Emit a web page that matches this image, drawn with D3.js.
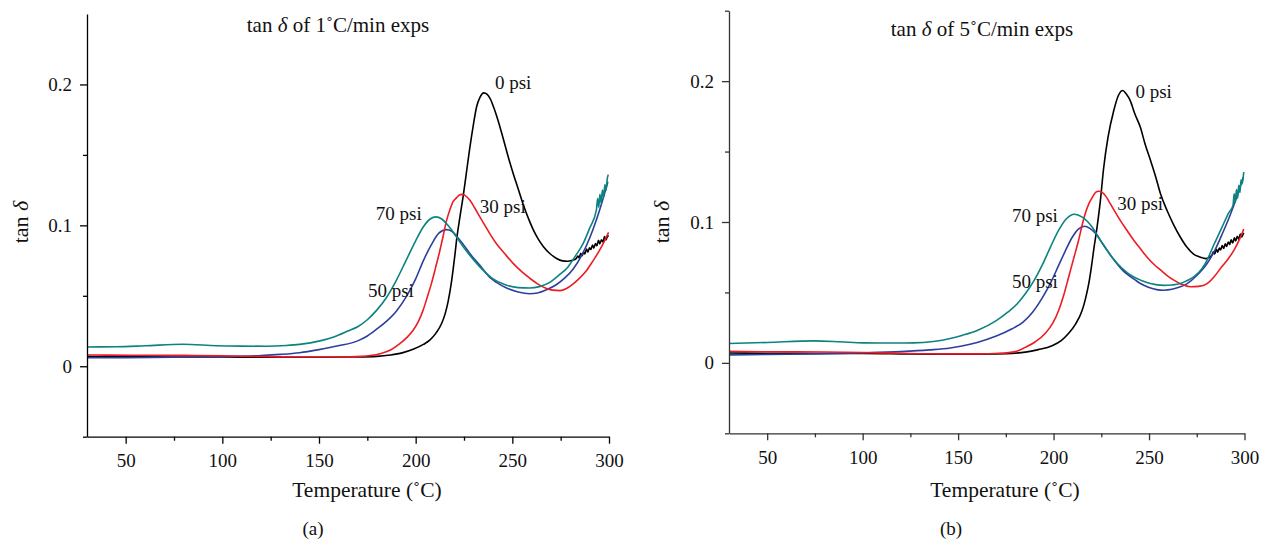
<!DOCTYPE html>
<html>
<head>
<meta charset="utf-8">
<script src="https://cdn.jsdelivr.net/npm/d3@7"></script>
<style>
  html, body { margin: 0; padding: 0; background: #fff; }
  svg { display: block; font-family: "Liberation Serif", "Times New Roman", serif; }
</style>
</head>
<body>
<svg id="chart" width="1273" height="546"></svg>
<script>
// ---- axis ticks ----
const xTicks = [50, 100, 150, 200, 250, 300];
const xMinorTicks = [75, 125, 175, 225, 275];
const yTicks = [0, 0.1, 0.2];
const yTickLabels = ["0", "0.1", "0.2"];
const yMinorTicksA = [-0.05, 0.05, 0.15];
const yMinorTicksB = [-0.05, 0.05, 0.15, 0.25];
const xDomain = [30, 300];
const yDomain = [-0.05, 0.25];

// ---- series names ----
const pressureLabels = ["0 psi", "30 psi", "50 psi", "70 psi"];

// ---- (a) 1 °C/min : [temperature °C, tan δ] ----
const psi0_1C = [
  [30,0.0068],[50,0.0067],[75,0.0066],[100,0.0066],[125,0.0064],[150,0.0064],[170,0.0066],
  [180,0.0070],[187,0.0080],[193,0.0095],[199,0.0122],[204,0.0155],[207.3,0.0185],[210.5,0.0235],
  [213.3,0.030],[215.2,0.037],[216.8,0.046],[218.2,0.057],[219.4,0.069],[220.3,0.079],[221.1,0.089],
  [222.9,0.106],[224.6,0.121],[226.5,0.140],[228,0.155],[229.8,0.171],[231.5,0.184],[233.3,0.191],
  [235.2,0.194],[237,0.193],[238.7,0.1895],[240.3,0.184],[242.5,0.175],[245.2,0.162],[248,0.148],
  [250.4,0.137],[253,0.126],[255.6,0.115],[258,0.106],[260.8,0.097],[263.5,0.090],[266,0.085],
  [269.4,0.080],[272.9,0.0765],[276,0.0748],[278.5,0.0745],[281,0.0752],[283,0.0764],
  [283.9,0.0782],[284.5,0.0770],[285.4,0.0801],[286.1,0.0784],[286.9,0.0808],[287.5,0.0797],
  [288.4,0.0832],[289.1,0.0810],[289.9,0.0841],[290.6,0.0829],[291.5,0.0860],[292.1,0.0838],
  [293,0.0871],[293.7,0.0856],[294.6,0.0894],[295.2,0.0868],[296.1,0.0897],[296.9,0.0882],
  [297.7,0.0921],[298.4,0.0896],[299.1,0.0918],[299.8,0.0928]
];
const psi30_1C = [
  [30,0.0080],[40,0.0079],[60,0.0078],[80,0.0077],[100,0.0074],[120,0.0069],[140,0.0066],
  [160,0.0066],[172,0.0070],[181.5,0.0088],[187,0.0115],[191.8,0.0160],[195.5,0.0205],[198.7,0.0255],
  [201.5,0.032],[203.9,0.040],[206,0.049],[208.2,0.059],[210.3,0.070],[212.5,0.082],[214.3,0.093],
  [216,0.1035],[217.7,0.111],[219.4,0.117],[221.1,0.1195],[222.6,0.1215],[224,0.122],[225.5,0.1213],
  [228,0.118],[230.5,0.1125],[233.2,0.106],[235.8,0.100],[238.4,0.094],[241.8,0.087],[246,0.080],
  [250.4,0.073],[255,0.067],[259,0.0625],[263,0.0585],[267.7,0.0552],[271,0.0540],[274.6,0.0537],
  [278,0.0552],[281,0.0580],[284,0.0615],[288.4,0.068],[291.8,0.075],[295,0.082],[297.5,0.0885],
  [299.8,0.095]
];
const psi50_1C = [
  [30,0.0060],[50,0.0061],[75,0.0064],[100,0.0069],[120,0.0076],[130,0.0084],[140,0.0096],
  [150,0.0118],[160,0.0145],[170,0.0180],[175,0.0215],[180,0.0265],[185,0.032],[190,0.039],
  [195,0.049],[200,0.062],[204,0.075],[208,0.086],[212,0.0945],[216,0.097],[218.5,0.096],
  [221.1,0.0925],[224.6,0.0865],[228,0.080],[233.2,0.0716],[238.4,0.063],[241.8,0.0595],[247,0.0555],
  [253,0.0527],[259,0.0515],[263,0.0520],[268,0.0545],[272.9,0.058],[277,0.0625],[281.5,0.069],
  [286,0.079],[290,0.091],[293.5,0.104],[296.5,0.117],[299.4,0.131]
];
const psi70_1C = [
  [30,0.0137],[45,0.0138],[60,0.0145],[79.6,0.0156],[97,0.0146],[110,0.0143],[123,0.0142],
  [133,0.0147],[140,0.0155],[150.5,0.0180],[158,0.0210],[165,0.0250],[170,0.028],[175,0.033],
  [180,0.040],[185,0.049],[190,0.061],[195,0.075],[200,0.089],[204,0.099],[207.5,0.1045],
  [210.5,0.106],[213.5,0.1045],[217,0.0995],[221,0.092],[225,0.084],[230,0.0755],[235,0.068],
  [240,0.062],[246,0.058],[253,0.0558],[259,0.0555],[264,0.0565],[269.4,0.0595],[274,0.0645],
  [278.8,0.0705],[282.5,0.078],[286.6,0.087],[290,0.098],[293.5,0.111],[294.1,0.119],[294.7,0.113],
  [295.3,0.122],[295.9,0.116],[296.6,0.125],[297.2,0.120],[297.9,0.129],[298.5,0.125],[299.1,0.133],
  [299.6,0.136]
];

// ---- (b) 5 °C/min : [temperature °C, tan δ] ----
const psi0_5C = [
  [30,0.0070],[50,0.0068],[75,0.0067],[100,0.0067],[125,0.0063],[150,0.0062],[170,0.0064],
  [180,0.0069],[185.2,0.0076],[192,0.0094],[199.2,0.0122],[204,0.0158],[207.9,0.0210],[211.5,0.0275],
  [214.9,0.037],[216.8,0.046],[218.4,0.056],[219.8,0.068],[221,0.080],[222.8,0.0965],[224.5,0.115],
  [226.2,0.138],[228.5,0.160],[231.5,0.179],[234,0.190],[236.2,0.1934],[238,0.191],[240.2,0.186],
  [242.5,0.177],[245.5,0.167],[248,0.155],[250.7,0.144],[253.5,0.132],[256,0.120],[259.5,0.108],
  [262.9,0.098],[266.5,0.089],[269.9,0.082],[273.5,0.077],[276.9,0.075],[279.6,0.074],[282,0.0752],
  [283,0.0766],[283.7,0.0789],[284.4,0.0773],[285.3,0.0806],[286,0.0786],[286.8,0.0815],[287.5,0.0801],
  [288.3,0.0833],[289.1,0.0812],[289.9,0.0846],[290.6,0.0826],[291.5,0.0857],[292.2,0.0840],
  [293,0.0873],[293.8,0.0851],[294.7,0.0887],[295.4,0.0865],[296.2,0.0899],[297,0.0878],
  [297.8,0.0914],[298.6,0.0893],[299.2,0.0912],[299.7,0.0922]
];
const psi30_5C = [
  [30,0.0082],[50,0.0079],[80,0.0077],[100,0.0074],[120,0.0068],[140,0.0064],[160,0.0064],
  [172,0.0068],[180,0.0080],[185.2,0.011],[190.5,0.015],[195.7,0.021],[199.5,0.028],[202.6,0.037],
  [205.3,0.048],[207.9,0.061],[210.5,0.074],[213.1,0.087],[215,0.098],[216.6,0.106],[218.5,0.113],
  [220.5,0.118],[222,0.1210],[223.6,0.1218],[225.5,0.121],[227.5,0.118],[229.7,0.113],[232.3,0.107],
  [235,0.101],[238.5,0.094],[242,0.087],[245.5,0.081],[249,0.075],[252.5,0.070],[256,0.066],
  [259.5,0.062],[263,0.0587],[267,0.0558],[271.7,0.054],[276,0.0543],[280.4,0.0563],[284,0.061],
  [287.4,0.067],[291,0.073],[294.5,0.080],[297.5,0.088],[299.6,0.095]
];
const psi50_5C = [
  [30,0.0057],[50,0.0060],[75,0.0064],[100,0.0071],[120,0.0080],[135,0.0092],[145.9,0.0106],
  [152,0.0120],[160,0.0145],[170,0.0190],[178,0.0240],[184,0.029],[189,0.036],[194,0.046],
  [198.5,0.057],[202.6,0.069],[206,0.079],[209.7,0.089],[213,0.095],[216.3,0.097],[219,0.0955],
  [221.9,0.092],[226,0.084],[230.6,0.075],[236,0.066],[242.9,0.0587],[245.5,0.0563],[250,0.0535],
  [254,0.0520],[257.7,0.0516],[262,0.0522],[266,0.0538],[270,0.0563],[275,0.062],[280.4,0.0705],
  [284.5,0.080],[288.5,0.092],[292.5,0.105],[296,0.118],[299.4,0.132]
];
const psi70_5C = [
  [30,0.0138],[50,0.0145],[74.2,0.0156],[88,0.0150],[100.4,0.0142],[115,0.0141],[126.6,0.0142],
  [137,0.0152],[145.9,0.0173],[152,0.0195],[160,0.0230],[170,0.0300],[176,0.036],[181,0.042],
  [185.2,0.049],[189.6,0.058],[193.9,0.069],[198.3,0.082],[202.6,0.094],[206.5,0.102],[211,0.1055],
  [215,0.1035],[220.2,0.0965],[225,0.086],[230.6,0.075],[236,0.067],[242,0.061],[246,0.0585],
  [250.7,0.0563],[257.7,0.0550],[262,0.0553],[266.5,0.0563],[270,0.0585],[273.4,0.061],[277.8,0.067],
  [280.4,0.073],[284,0.084],[288.3,0.0965],[291.5,0.106],[294,0.112],[294.6,0.120],[295.2,0.114],
  [295.8,0.123],[296.4,0.117],[297,0.126],[297.6,0.121],[298.2,0.130],[298.8,0.127],[299.6,0.1355]
];

// ---- label anchor points for each curve [temperature, tan δ] ----
const labelPosA = { "0 psi": [241, 0.1965], "30 psi": [233.2, 0.1085], "50 psi": [175.3, 0.0493], "70 psi": [179.4, 0.104] };
const labelPosB = { "0 psi": [242.9, 0.188], "30 psi": [233.3, 0.1083], "50 psi": [178.2, 0.0528], "70 psi": [178.2, 0.100] };

const colors = { "0 psi": "#000000", "30 psi": "#ec1c24", "50 psi": "#2d3f9c", "70 psi": "#0b837f" };

const panels = [
  {
    rate: "1", tag: "(a)", axisColor: "#000",
    left: 87, right: 609, top: 14, bottom: 436.7,
    titleX: 338, titleY: 32, xLabelX: 367, yLabelX: 28, tagX: 313,
    yMinor: yMinorTicksA, labels: labelPosA,
    series: { "0 psi": psi0_1C, "30 psi": psi30_1C, "50 psi": psi50_1C, "70 psi": psi70_1C }
  },
  {
    rate: "5", tag: "(b)", axisColor: "#333",
    left: 729, right: 1244.5, top: 10.7, bottom: 433.3,
    titleX: 982, titleY: 36, xLabelX: 1005, yLabelX: 669, tagX: 951,
    yMinor: yMinorTicksB, labels: labelPosB,
    series: { "0 psi": psi0_5C, "30 psi": psi30_5C, "50 psi": psi50_5C, "70 psi": psi70_5C }
  }
];

const svg = d3.select("#chart");
const drawOrder = ["0 psi", "50 psi", "30 psi", "70 psi"];
const serif = "Liberation Serif, Times New Roman, serif";

panels.forEach(p => {
  const x = d3.scaleLinear().domain(xDomain).range([p.left, p.right]);
  const y = d3.scaleLinear().domain(yDomain).range([p.bottom, p.top]);
  const g = svg.append("g");

  // curves
  const line = d3.line().x(d => x(d[0])).y(d => y(d[1])).curve(d3.curveMonotoneX);
  drawOrder.forEach(name => {
    g.append("path")
      .datum(p.series[name])
      .attr("fill", "none")
      .attr("stroke", colors[name])
      .attr("stroke-width", 1.6)
      .attr("stroke-linejoin", "round")
      .attr("d", line);
  });

  // curve labels
  pressureLabels.forEach(name => {
    const pos = p.labels[name];
    g.append("text")
      .attr("x", x(pos[0]))
      .attr("y", y(pos[1]))
      .attr("font-size", 19)
      .attr("fill", "#111")
      .text(name);
  });

  // x axis: major then minor ticks
  g.append("g")
    .attr("transform", `translate(0,${p.bottom})`)
    .call(d3.axisBottom(x).tickValues(xTicks).tickSize(7).tickSizeOuter(0).tickPadding(10).tickFormat(d3.format("d")));
  g.append("g")
    .attr("transform", `translate(0,${p.bottom})`)
    .call(d3.axisBottom(x).tickValues(xMinorTicks).tickSize(4).tickSizeOuter(0).tickFormat(""))
    .select(".domain").remove();

  // y axis: major then minor ticks
  g.append("g")
    .attr("transform", `translate(${p.left},0)`)
    .call(d3.axisLeft(y).tickValues(yTicks).tickSize(7).tickSizeOuter(0).tickPadding(8)
      .tickFormat((d, i) => yTickLabels[i]));
  g.append("g")
    .attr("transform", `translate(${p.left},0)`)
    .call(d3.axisLeft(y).tickValues(p.yMinor).tickSize(4).tickSizeOuter(0).tickFormat(""))
    .select(".domain").remove();

  g.selectAll(".domain, .tick line")
    .attr("stroke", p.axisColor)
    .attr("stroke-width", 1.3);
  g.selectAll(".tick text")
    .attr("font-family", serif)
    .attr("font-size", 19)
    .attr("fill", "#111");

  // title
  const title = g.append("text")
    .attr("x", p.titleX)
    .attr("y", p.titleY)
    .attr("text-anchor", "middle")
    .attr("font-size", 21)
    .attr("fill", "#111");
  title.append("tspan").text("tan ");
  title.append("tspan").attr("font-style", "italic").text("δ");
  title.append("tspan").text(` of ${p.rate}˚C/min exps`);

  // x axis title
  g.append("text")
    .attr("x", p.xLabelX)
    .attr("y", 497)
    .attr("text-anchor", "middle")
    .attr("font-size", 21.5)
    .attr("fill", "#111")
    .text("Temperature (˚C)");

  // y axis title
  const yl = g.append("text")
    .attr("transform", `translate(${p.yLabelX},222) rotate(-90)`)
    .attr("text-anchor", "middle")
    .attr("font-size", 22)
    .attr("fill", "#111");
  yl.append("tspan").text("tan ");
  yl.append("tspan").attr("font-style", "italic").text("δ");

  // panel tag
  g.append("text")
    .attr("x", p.tagX)
    .attr("y", 535)
    .attr("text-anchor", "middle")
    .attr("font-size", 19)
    .attr("fill", "#111")
    .text(p.tag);
});
</script>
</body>
</html>
